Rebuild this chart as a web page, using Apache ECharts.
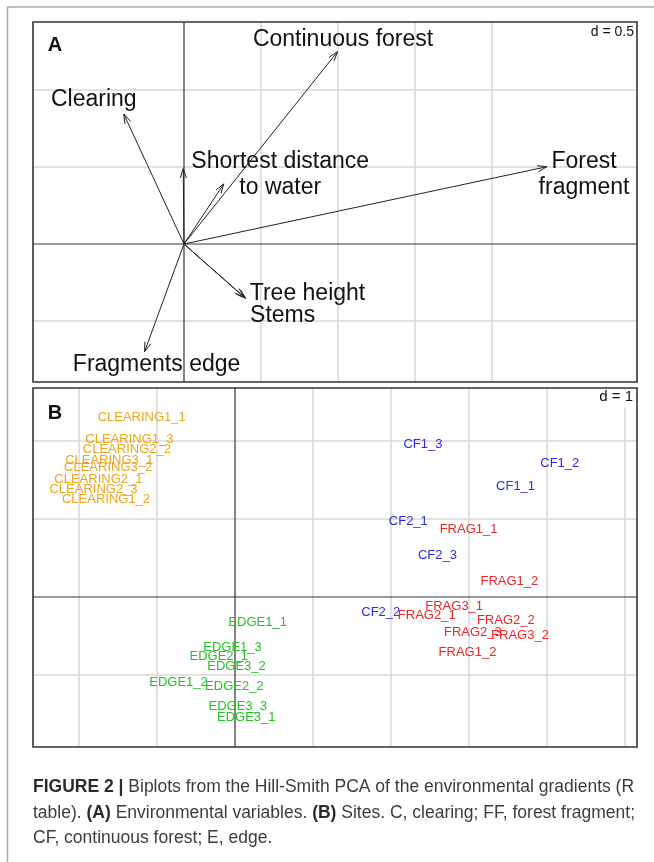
<!DOCTYPE html>
<html><head><meta charset="utf-8">
<script src="https://cdn.jsdelivr.net/npm/echarts@6/dist/echarts.min.js"></script>
<style>html,body{margin:0;padding:0;background:#fff}#c{width:654px;height:862px}</style>
</head><body><div id="c"></div>
<script>
// ---------- Panel A : environmental variables (arrow tips) ----------
const varNames = ['Continuous forest', 'Clearing', '', 'Shortest distance\nto water', 'Forest\nfragment', 'Tree height', 'Stems', 'Fragments edge'];
const varX = [0.997, -0.391, 0.258, -0.005, 2.357, 0.401, 0.390, -0.256];
const varY = [1.249, 0.844, 0.390, 0.490, 0.502, -0.353, -0.345, -0.699];
const axisAx = [-0.9805, 2.9416];
const axisAy = [-0.896, 1.4416];
const gridAx = [0.5, 1, 1.5, 2];
const gridAy = [-0.5, 0.5, 1];

// ---------- Panel B : sites ----------
const siteNames = ['CLEARING1_1','CLEARING1_3','CLEARING2_2','CLEARING3_1','CLEARING3_2','CLEARING2_1','CLEARING2_3','CLEARING1_2',
  'CF1_3','CF1_2','CF1_1','CF2_1','CF2_3','CF2_2',
  'FRAG1_1','FRAG1_2','FRAG3_1','FRAG2_1','FRAG2_2','FRAG2_3','FRAG3_2','FRAG1_2',
  'EDGE1_1','EDGE1_3','EDGE2_1','EDGE3_2','EDGE1_2','EDGE2_2','EDGE3_3','EDGE3_1'];
const siteX = [-1.196,-1.354,-1.386,-1.613,-1.627,-1.752,-1.814,-1.654,
  2.409,4.164,3.597,2.222,2.596,1.869,
  2.994,3.518,2.810,2.458,3.472,3.050,3.654,2.981,
  0.291,-0.032,-0.208,0.019,-0.724,-0.008,0.035,0.144];
const siteY = [2.305,2.026,1.894,1.756,1.663,1.509,1.376,1.253,
  1.958,1.714,1.414,0.965,0.538,-0.196,
  0.872,0.202,-0.124,-0.231,-0.304,-0.453,-0.487,-0.714,
  -0.324,-0.645,-0.765,-0.885,-1.099,-1.150,-1.406,-1.547];
const siteGroup = [0,0,0,0,0,0,0,0, 1,1,1,1,1,1, 2,2,2,2,2,2,2,2, 3,3,3,3,3,3,3,3];
const axisBx = [-2.590, 5.154];
const axisBy = [-1.923, 2.679];
const gridBx = [-2, -1, 1, 2, 3, 4, 5];
const gridBy = [-1, 1, 2];

// ---------- styles ----------
const groupColors = ['#EFA31C', '#2B2BE6', '#F02424', '#22C322'];
const FONT = '"Liberation Sans", Arial, sans-serif';
const CAP = '17.5px ' + FONT;
const CAPB = 'bold 17.5px ' + FONT;
const labelLayout = [
  {dx: 5.5, dy: -11.7, align: 'center'},
  {dx: -30, dy: -14, align: 'center'},
  null,
  {dx: 97, dy: 6.5, align: 'center'},
  {dx: 37, dy: 8, align: 'center'},
  {dx: 4, dy: -5, align: 'left'},
  {dx: 6, dy: 19, align: 'left'},
  {dx: 12, dy: 13, align: 'center'}
];

function frameItem(gx, gy) {
  return function (params, api) {
    const cs = params.coordSys;
    const kids = [];
    const o = api.coord([0, 0]);
    gx.forEach(v => { const p = api.coord([v, 0]);
      kids.push({type: 'line', shape: {x1: p[0], y1: cs.y, x2: p[0], y2: cs.y + cs.height}, style: {stroke: '#d8d8d8', lineWidth: 1.5}}); });
    gy.forEach(v => { const p = api.coord([0, v]);
      kids.push({type: 'line', shape: {x1: cs.x, y1: p[1], x2: cs.x + cs.width, y2: p[1]}, style: {stroke: '#d8d8d8', lineWidth: 1.5}}); });
    kids.push({type: 'line', shape: {x1: o[0], y1: cs.y, x2: o[0], y2: cs.y + cs.height}, style: {stroke: '#333', lineWidth: 1.2}});
    kids.push({type: 'line', shape: {x1: cs.x, y1: o[1], x2: cs.x + cs.width, y2: o[1]}, style: {stroke: '#333', lineWidth: 1.2}});
    kids.push({type: 'rect', shape: {x: cs.x, y: cs.y, width: cs.width, height: cs.height}, style: {fill: 'none', stroke: '#333', lineWidth: 1.6}});
    return {type: 'group', children: kids};
  };
}

function arrowItem(params, api) {
  const i = api.value(2);
  const o = api.coord([0, 0]);
  const t = api.coord([api.value(0), api.value(1)]);
  const dx = t[0] - o[0], dy = t[1] - o[1];
  const len = Math.hypot(dx, dy) || 1;
  const ux = dx / len, uy = dy / len;
  const L = 10, a = 18 * Math.PI / 180, c = Math.cos(a), s = Math.sin(a);
  const h1 = [t[0] - L * (ux * c - uy * s), t[1] - L * (uy * c + ux * s)];
  const h2 = [t[0] - L * (ux * c + uy * s), t[1] - L * (uy * c - ux * s)];
  const kids = [
    {type: 'line', shape: {x1: o[0], y1: o[1], x2: t[0], y2: t[1]}, style: {stroke: '#222', lineWidth: 1}},
    {type: 'polyline', shape: {points: [h1, t, h2]}, style: {stroke: '#222', lineWidth: 1, fill: 'none'}}
  ];
  const lay = labelLayout[i];
  if (lay && varNames[i]) {
    kids.push({type: 'text', style: {text: varNames[i], x: t[0] + lay.dx, y: t[1] + lay.dy, align: lay.align,
      verticalAlign: 'middle', font: '23px ' + FONT, lineHeight: 26, fill: '#111'}});
  }
  return {type: 'group', children: kids};
}

function siteItem(params, api) {
  const p = api.coord([api.value(0), api.value(1)]);
  const i = api.value(2);
  return {type: 'text', style: {text: siteNames[i], x: p[0], y: p[1], align: 'center', verticalAlign: 'middle',
    font: '13px ' + FONT, fill: groupColors[siteGroup[i]]}};
}

const chart = echarts.init(document.getElementById('c'), null, {renderer: 'canvas'});
const hiddenAxis = {type: 'value', show: false, scale: true};
chart.setOption({
  animation: false,
  backgroundColor: '#fff',
  grid: [
    {left: 33, top: 22, width: 604, height: 360},
    {left: 33, top: 388, width: 604, height: 359}
  ],
  xAxis: [
    Object.assign({}, hiddenAxis, {gridIndex: 0, min: axisAx[0], max: axisAx[1]}),
    Object.assign({}, hiddenAxis, {gridIndex: 1, min: axisBx[0], max: axisBx[1]})
  ],
  yAxis: [
    Object.assign({}, hiddenAxis, {gridIndex: 0, min: axisAy[0], max: axisAy[1]}),
    Object.assign({}, hiddenAxis, {gridIndex: 1, min: axisBy[0], max: axisBy[1]})
  ],
  series: [
    {type: 'custom', xAxisIndex: 0, yAxisIndex: 0, z: 1, silent: true, data: [[0, 0]], renderItem: frameItem(gridAx, gridAy)},
    {type: 'custom', xAxisIndex: 1, yAxisIndex: 1, z: 1, silent: true, data: [[0, 0]], renderItem: frameItem(gridBx, gridBy)},
    {type: 'custom', xAxisIndex: 0, yAxisIndex: 0, z: 3, silent: true,
      data: varX.map((x, i) => [x, varY[i], i]), renderItem: arrowItem},
    {type: 'custom', xAxisIndex: 1, yAxisIndex: 1, z: 3, silent: true,
      data: siteX.map((x, i) => [x, siteY[i], i]), renderItem: siteItem}
  ],
  graphic: [
    {type: 'polyline', z: 100, shape: {points: [[7.5, 862], [7.5, 7], [654, 7]]}, style: {stroke: '#a8a8a8', lineWidth: 1.5, fill: 'none'}},
    {type: 'text', z: 100, style: {text: 'A', x: 55, y: 45, align: 'center', verticalAlign: 'middle', font: 'bold 20px ' + FONT, fill: '#111'}},
    {type: 'text', z: 100, style: {text: 'B', x: 55, y: 413, align: 'center', verticalAlign: 'middle', font: 'bold 20px ' + FONT, fill: '#111'}},
    {type: 'text', z: 100, style: {text: 'd = 0.5', x: 634, y: 32, align: 'right', verticalAlign: 'middle', font: '14px ' + FONT, fill: '#111'}},
    {type: 'rect', z: 100, shape: {x: 597, y: 389.5, width: 39, height: 18}, style: {fill: '#fff'}},
    {type: 'text', z: 101, style: {text: 'd = 1', x: 633, y: 397, align: 'right', verticalAlign: 'middle', font: '15px ' + FONT, fill: '#111'}},
    {type: 'text', z: 100, style: {text: '{b|FIGURE 2 |} Biplots from the Hill-Smith PCA of the environmental gradients (R',
      x: 33, y: 787, verticalAlign: 'middle', font: CAP, fill: '#3c3c3c',
      rich: {b: {font: CAPB, fill: '#2a2a2a'}}}},
    {type: 'text', z: 100, style: {text: 'table). {b|(A)} Environmental variables. {b|(B)} Sites. C, clearing; FF, forest fragment;',
      x: 33, y: 813, verticalAlign: 'middle', font: CAP, fill: '#3c3c3c',
      rich: {b: {font: CAPB, fill: '#2a2a2a'}}}},
    {type: 'text', z: 100, style: {text: 'CF, continuous forest; E, edge.',
      x: 33, y: 838, verticalAlign: 'middle', font: CAP, fill: '#3c3c3c'}}
  ]
});
</script></body></html>
